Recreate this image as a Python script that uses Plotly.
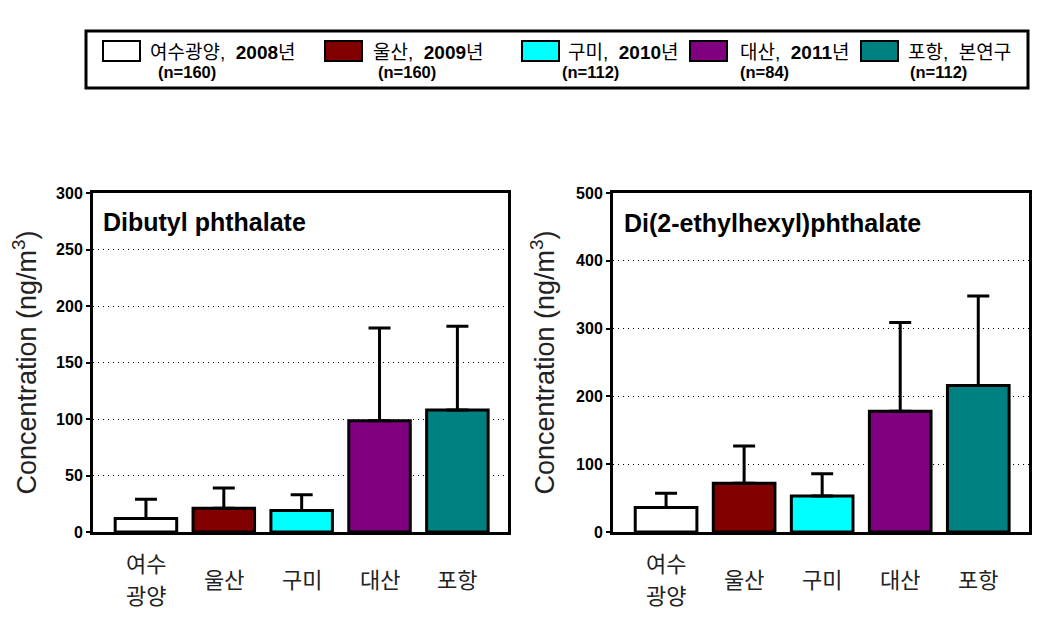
import plotly.graph_objects as go

# ---------------- data ----------------
categories = ["여수<br>광양", "울산", "구미", "대산", "포항"]
bar_colors = ["#FFFFFF", "#800000", "#00FFFF", "#800080", "#008080"]

dbp_mean = [12, 21, 19, 98.5, 108]
dbp_sd = [17, 18, 14, 82, 74]

dehp_mean = [36, 72, 53, 178, 216]
dehp_sd = [21, 55, 33, 131, 132]

panel_titles = ["Dibutyl phthalate", "Di(2-ethylhexyl)phthalate"]
y_title = "Concentration (ng/m<sup>3</sup>)"

dbp_ticks = [0, 50, 100, 150, 200, 250, 300]
dehp_ticks = [0, 100, 200, 300, 400, 500]

legend_sites = ["여수광양", "울산", "구미", "대산", "포항"]
legend_years = ["2008년", "2009년", "2010년", "2011년", "본연구"]
legend_n = [160, 160, 112, 84, 112]

# ---------------- helpers ----------------
# page body has an 8px margin: figure is sized to fit inside the window
OFF = 8
W, H = 1055 - 2 * OFF, 633 - 2 * OFF


def px(x):
    return (x - OFF) / W


def py(y):
    return 1 - (y - OFF) / H


FONT = "Liberation Sans, Arial, Noto Sans CJK KR, sans-serif"
KFONT = "Noto Sans CJK KR, Liberation Sans, sans-serif"

fig = go.Figure()

axes = [("x", "y"), ("x2", "y2")]
for i, (mean, sd) in enumerate([(dbp_mean, dbp_sd), (dehp_mean, dehp_sd)]):
    fig.add_trace(go.Bar(
        x=categories, y=mean,
        xaxis=axes[i][0], yaxis=axes[i][1],
        width=0.79,
        marker=dict(color=bar_colors, line=dict(color="black", width=3)),
        error_y=dict(type="data", symmetric=False, array=sd,
                     arrayminus=[0] * len(sd), color="black",
                     thickness=3, width=11),
        showlegend=False,
        hoverinfo="x+y",
    ))

common_x = dict(
    type="category", range=[-0.68, 4.65],
    showline=True, mirror=True, linewidth=3, linecolor="black",
    ticks="", showgrid=False, showticklabels=False, automargin=False,
)
common_y = dict(
    showline=True, mirror=True, linewidth=3, linecolor="black",
    ticks="outside", ticklen=4, tickwidth=2, tickcolor="black",
    showgrid=True, gridcolor="black", gridwidth=1, griddash="1px,4px",
    zeroline=False, automargin=False,
    tickfont=dict(family=FONT, size=16, color="black", weight="bold"),
    title=dict(text=y_title, font=dict(family=FONT, size=27, color="#222222"),
               standoff=14),
)

fig.update_layout(
    width=W, height=H,
    margin=dict(l=0, r=0, t=0, b=0, autoexpand=False),
    paper_bgcolor="white", plot_bgcolor="white",
    showlegend=False,
    xaxis=dict(domain=[px(93), px(508)], anchor="y", **common_x),
    xaxis2=dict(domain=[px(613), px(1029)], anchor="y2", **common_x),
    yaxis=dict(domain=[py(532), py(193)], anchor="x", range=[0, 300],
               tickvals=dbp_ticks, **common_y),
    yaxis2=dict(domain=[py(532), py(193)], anchor="x2", range=[0, 500],
                tickvals=dehp_ticks, **common_y),
)

annotations = []
# category labels under each bar; multi-line labels are centred on the same row
LABEL_Y, LINE_GAP = 578, 32
for xa in ("x", "x2"):
    for c in categories:
        parts = c.split("<br>")
        n = len(parts)
        for j, part in enumerate(parts):
            yy = LABEL_Y + (j - (n - 1) / 2) * LINE_GAP
            annotations.append(dict(xref=xa, yref="paper", x=c, y=py(yy),
                                    xanchor="center", yanchor="middle",
                                    showarrow=False, text=part,
                                    font=dict(family=KFONT, size=22, color="#222222")))

# panel titles
annotations.append(dict(xref="paper", yref="paper", x=px(101), y=py(222),
                        xanchor="left", yanchor="middle", showarrow=False,
                        text=f"<b>{panel_titles[0]}</b>",
                        font=dict(family=FONT, size=25, color="black")))
annotations.append(dict(xref="paper", yref="paper", x=px(622), y=py(223),
                        xanchor="left", yanchor="middle", showarrow=False,
                        text=f"<b>{panel_titles[1]}</b>",
                        font=dict(family=FONT, size=25, color="black")))

# legend box
shapes = [dict(type="rect", xref="paper", yref="paper",
               x0=px(86), x1=px(1028), y0=py(88), y1=py(31),
               line=dict(color="black", width=3), fillcolor="rgba(0,0,0,0)")]

sw_left = [103, 325, 522, 690, 861]
line1_x = [148, 371, 566, 738, 906]
line2_x = [156, 376, 560, 738, 908]
for k in range(len(legend_sites)):
    shapes.append(dict(type="rect", xref="paper", yref="paper",
                       x0=px(sw_left[k]), x1=px(sw_left[k] + 37),
                       y0=py(61), y1=py(41),
                       line=dict(color="black", width=2),
                       fillcolor=bar_colors[k]))
    yr = legend_years[k]
    if yr[:-1].isdigit():
        yr_txt = f"<b>{yr[:-1]}</b>{yr[-1]}"
    else:
        yr_txt = yr
    annotations.append(dict(xref="paper", yref="paper", x=px(line1_x[k]), y=py(52),
                            xanchor="left", yanchor="middle", showarrow=False,
                            text=f"{legend_sites[k]},&nbsp; {yr_txt}",
                            font=dict(family=FONT, size=19, color="black")))
    annotations.append(dict(xref="paper", yref="paper", x=px(line2_x[k]), y=py(72),
                            xanchor="left", yanchor="middle", showarrow=False,
                            text=f"<b>(n={legend_n[k]})</b>",
                            font=dict(family=FONT, size=16.5, color="black")))

fig.update_layout(annotations=annotations, shapes=shapes)

fig.write_html("out.html")
